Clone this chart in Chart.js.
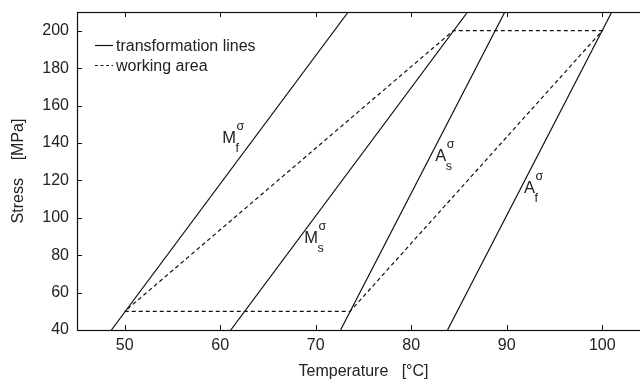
<!DOCTYPE html>
<html>
<head>
<meta charset="utf-8">
<script src="https://cdn.jsdelivr.net/npm/chart.js@4/dist/chart.umd.min.js"></script>
<style>
html, body { margin: 0; padding: 0; overflow: hidden; background: #fff; }
#wrap { width: 650px; height: 382px; }
</style>
</head>
<body>
<div id="wrap"><canvas id="chart"></canvas></div>
<script>
// tick values
const xTicks = [50, 60, 70, 80, 90, 100];
const yTicks = [40, 60, 80, 100, 120, 140, 160, 180, 200];

// transformation lines (temperature at stress 40 and 210)
const lineStress = [40, 210];
const mfTemp = [48.6, 73.4];
const msTemp = [61.1, 85.9];
const asTemp = [72.6, 89.8];
const afTemp = [83.8, 101.0];

// working area outline
const areaTemp = [50, 73.6, 100, 84.4, 50];
const areaStress = [50, 50, 200, 200, 50];

// line labels
const labelMain = ["M", "M", "A", "A"];
const labelSub = ["f", "s", "s", "f"];
const labelTemp = [60.2, 68.8, 82.5, 91.8];
const labelStress = [140, 86.4, 130.4, 113.4];

const legendLabels = ["transformation lines", "working area"];

const FONT = "'Liberation Sans', Arial, sans-serif";
const INK = "#111";
const TXT = "#222";

function pts(xs, ys) {
	return xs.map((x, i) => ({x: x, y: ys[i]}));
}

let datasets = [mfTemp, msTemp, asTemp, afTemp].map(t => ({
	data: pts(t, lineStress),
	borderColor: INK,
	borderWidth: 1.2,
	pointRadius: 0,
	showLine: true
}));
datasets.push({
	data: pts(areaTemp, areaStress),
	borderColor: INK,
	borderWidth: 1.2,
	borderDash: [4, 3],
	pointRadius: 0,
	showLine: true
});

const extras = {
	id: "extras",
	afterDraw(chart) {
		const c = chart.ctx, a = chart.chartArea;
		const xs = chart.scales.x, ys = chart.scales.y;
		c.save();
		c.strokeStyle = INK;
		c.lineWidth = 1.2;
		function seg(x1, y1, x2, y2) {
			c.beginPath(); c.moveTo(x1, y1); c.lineTo(x2, y2); c.stroke();
		}
		// frame
		c.strokeRect(Math.round(a.left) + 0.5, Math.round(a.top) + 0.5, Math.round(a.right - a.left), Math.round(a.bottom - a.top));
		// inward ticks
		c.lineWidth = 1;
		xTicks.forEach(v => {
			const p = Math.round(xs.getPixelForValue(v)) + 0.5;
			seg(p, a.bottom, p, a.bottom - 5);
			seg(p, a.top, p, a.top + 5);
		});
		yTicks.forEach(v => {
			const p = Math.round(ys.getPixelForValue(v)) + 0.5;
			seg(a.left, p, a.left + 5, p);
			seg(a.right, p, a.right - 5, p);
		});
		// legend
		c.lineWidth = 1.2;
		c.fillStyle = TXT;
		c.font = "16px " + FONT;
		c.textBaseline = "middle";
		legendLabels.forEach((t, i) => {
			const y = Math.round(a.top + 33 + i * 20) + 0.5;
			c.setLineDash(i === 0 ? [] : [3, 2.5]);
			seg(a.left + 18, y, a.left + 36, y);
			c.setLineDash([]);
			c.fillText(t, a.left + 39, y + 1);
		});
		// line labels
		c.textBaseline = "alphabetic";
		labelMain.forEach((m, i) => {
			const px = xs.getPixelForValue(labelTemp[i]);
			const py = ys.getPixelForValue(labelStress[i]);
			c.font = "16.5px " + FONT;
			c.fillText(m, px, py);
			const w = c.measureText(m).width;
			c.font = "12.5px " + FONT;
			c.fillText(labelSub[i], px + w - 0.5, py + 9);
			c.fillText("\u03c3", px + w + 0.5, py - 13);
		});
		c.restore();
	}
};

let ctx = document.getElementById("chart");
const config = {
	type: "scatter",
	data: {datasets: datasets},
	options: {
		responsive: true,
		maintainAspectRatio: false,
		animation: false,
		layout: {padding: {top: 12, right: 0, left: 0, bottom: 0}},
		plugins: {
			legend: {display: false},
			tooltip: {enabled: false}
		},
		scales: {
			x: {
				type: "linear",
				min: 45,
				max: 105,
				afterBuildTicks: s => { s.ticks = xTicks.map(v => ({value: v})); },
				afterFit: s => { s.height = 52; s.paddingLeft = 0; s.paddingRight = 0; },
				grid: {display: false, drawTicks: false},
				border: {display: false},
				ticks: {
					padding: 6,
					color: TXT,
					font: {family: FONT, size: 16}
				},
				title: {
					display: true,
					text: "Temperature   [°C]",
					color: TXT,
					padding: {top: 0, bottom: 1},
					font: {family: FONT, size: 16}
				}
			},
			y: {
				type: "linear",
				min: 40,
				max: 210,
				afterBuildTicks: s => { s.ticks = yTicks.map(v => ({value: v})); },
				afterFit: s => { s.width = 77; s.paddingTop = 0; s.paddingBottom = 0; },
				grid: {display: false, drawTicks: false},
				border: {display: false},
				ticks: {
					padding: 8,
					color: TXT,
					font: {family: FONT, size: 16}
				},
				title: {
					display: true,
					text: "Stress    [MPa]",
					color: TXT,
					padding: {top: 9, bottom: 0},
					font: {family: FONT, size: 16}
				}
			}
		}
	},
	plugins: [extras]
};
let chart = new Chart(ctx, config);
</script>
</body>
</html>
